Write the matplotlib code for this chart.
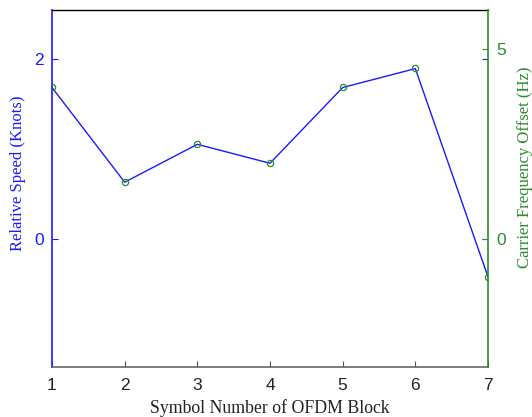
import matplotlib
matplotlib.use("Agg")
import matplotlib.pyplot as plt
from matplotlib.font_manager import FontProperties

# symbol index of the OFDM block
symbols = [1, 2, 3, 4, 5, 6, 7]
# relative speed in knots (left axis)
speed = [1.68, 0.63, 1.05, 0.84, 1.68, 1.89, -0.42]
# carrier frequency offset in Hz (right axis)
cfo = [4.0, 1.5, 2.5, 2.0, 4.0, 4.5, -1.0]

blue = "#1a1aff"
green = "#2e8b2e"

fig = plt.figure(figsize=(5.32, 4.17), dpi=100)
ax = fig.add_axes([52 / 532, 1 - 367 / 417, 436 / 532, 357 / 417])
ax2 = ax.twinx()

ax.plot(symbols, speed, color=blue, lw=1.0)
ax2.plot(symbols, cfo, "o", color=green, mfc="none", ms=4.5, mew=0.9)

ax.set_xlim(1, 7)
ax.set_ylim(-1.42, 2.54)
ax2.set_ylim(-3.37, 6.03)
ax.set_xticks(symbols)
ax.set_yticks([0, 2])
ax2.set_yticks([0, 5])

tick_fp = FontProperties(family="Liberation Sans", size=12.5)
for lab in ax.get_xticklabels() + ax.get_yticklabels() + ax2.get_yticklabels():
    lab.set_fontproperties(tick_fp)
for lab in ax.get_xticklabels():
    lab.set_color("#222222")

ax.tick_params(axis="x", direction="in", length=4, color="#555555", pad=8)
ax.tick_params(axis="y", direction="in", length=4, colors=blue, right=True, pad=6)
ax2.tick_params(axis="y", direction="in", length=4, colors=green, pad=6)

ax.spines["left"].set_color(blue)
ax.spines["left"].set_linewidth(1.2)
ax2.spines["left"].set_visible(False)
ax2.spines["right"].set_color(green)
ax2.spines["right"].set_linewidth(1.2)
ax.spines["right"].set_visible(False)
ax.spines["bottom"].set_color("#666666")
ax.spines["bottom"].set_linewidth(1.2)
ax2.spines["bottom"].set_visible(False)
ax.spines["top"].set_linewidth(1.0)
ax2.spines["top"].set_visible(False)

ax.set_xlabel("Symbol Number of OFDM Block", color="#222222", labelpad=4,
              family="Liberation Serif", size=12.8)
ax.set_ylabel("Relative Speed (Knots)", color=blue, labelpad=6,
              family="Liberation Serif", size=12)
ax2.set_ylabel("Carrier Frequency Offset (Hz)", color=green, labelpad=8,
               family="Liberation Serif", size=12)
ax.yaxis.label.set_y(0.543)
ax2.yaxis.label.set_y(0.56)

fig.savefig("out.png", dpi=100)
